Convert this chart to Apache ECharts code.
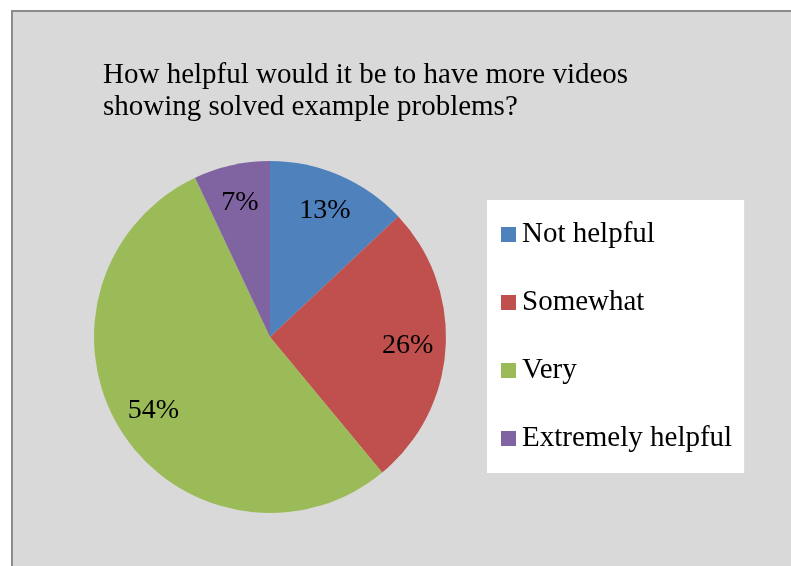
<!DOCTYPE html>
<html>
<head>
<meta charset="utf-8">
<script src="https://cdn.jsdelivr.net/npm/echarts@6/dist/echarts.min.js"></script>
<style>
html,body{margin:0;padding:0;background:#fff;}
#chart{width:791px;height:566px;}
</style>
</head>
<body>
<div id="chart"></div>
<script>
var titleText = 'How helpful would it be to have more videos\nshowing solved example problems?';
var categories = ['Not helpful', 'Somewhat', 'Very', 'Extremely helpful'];
var values = [13, 26, 54, 7];
var colors = ['#4f81bd', '#c0504d', '#9bbb59', '#8064a2'];

var FONT = '"Liberation Serif", "Times New Roman", serif';
var pieData = categories.map(function (c, i) {
  return { name: c, value: values[i], itemStyle: { color: colors[i] } };
});
var labelData = categories.map(function (c, i) {
  return { name: c, value: values[i], itemStyle: { color: 'rgba(0,0,0,0)' } };
});

var chart = echarts.init(document.getElementById('chart'));
chart.setOption({
  animation: false,
  backgroundColor: '#ffffff',
  graphic: [{
    type: 'rect', z: -10,
    shape: { x: 12, y: 11, width: 900, height: 700 },
    style: { fill: '#d9d9d9', stroke: '#8c8c8c', lineWidth: 2 }
  }],
  title: {
    text: titleText,
    left: 98, top: 54,
    textStyle: { fontFamily: FONT, fontSize: 29, fontWeight: 'normal', color: '#000', lineHeight: 32 }
  },
  legend: {
    orient: 'vertical',
    left: 487, top: 200,
    data: categories.map(function (c, i) { return { name: c, itemStyle: { color: colors[i] } }; }),
    backgroundColor: '#ffffff',
    padding: [20, 12, 20, 14],
    itemWidth: 15, itemHeight: 15, itemGap: 39,
    icon: 'rect',
    selectedMode: false,
    textStyle: { fontFamily: FONT, fontSize: 29, color: '#000', lineHeight: 29, padding: [0, 0, 0, 1] }
  },
  series: [{
    type: 'pie',
    center: [270, 337],
    radius: 176,
    startAngle: 90,
    clockwise: true,
    silent: true,
    label: { show: false },
    labelLine: { show: false },
    data: pieData
  }, {
    type: 'pie',
    center: [270, 337],
    radius: [94, 176],
    startAngle: 90,
    clockwise: true,
    silent: true,
    label: {
      show: true, position: 'inside',
      formatter: function (p) { return p.value + '%'; },
      fontFamily: FONT, fontSize: 28, color: '#000'
    },
    labelLine: { show: false },
    data: labelData
  }]
});
</script>
</body>
</html>
